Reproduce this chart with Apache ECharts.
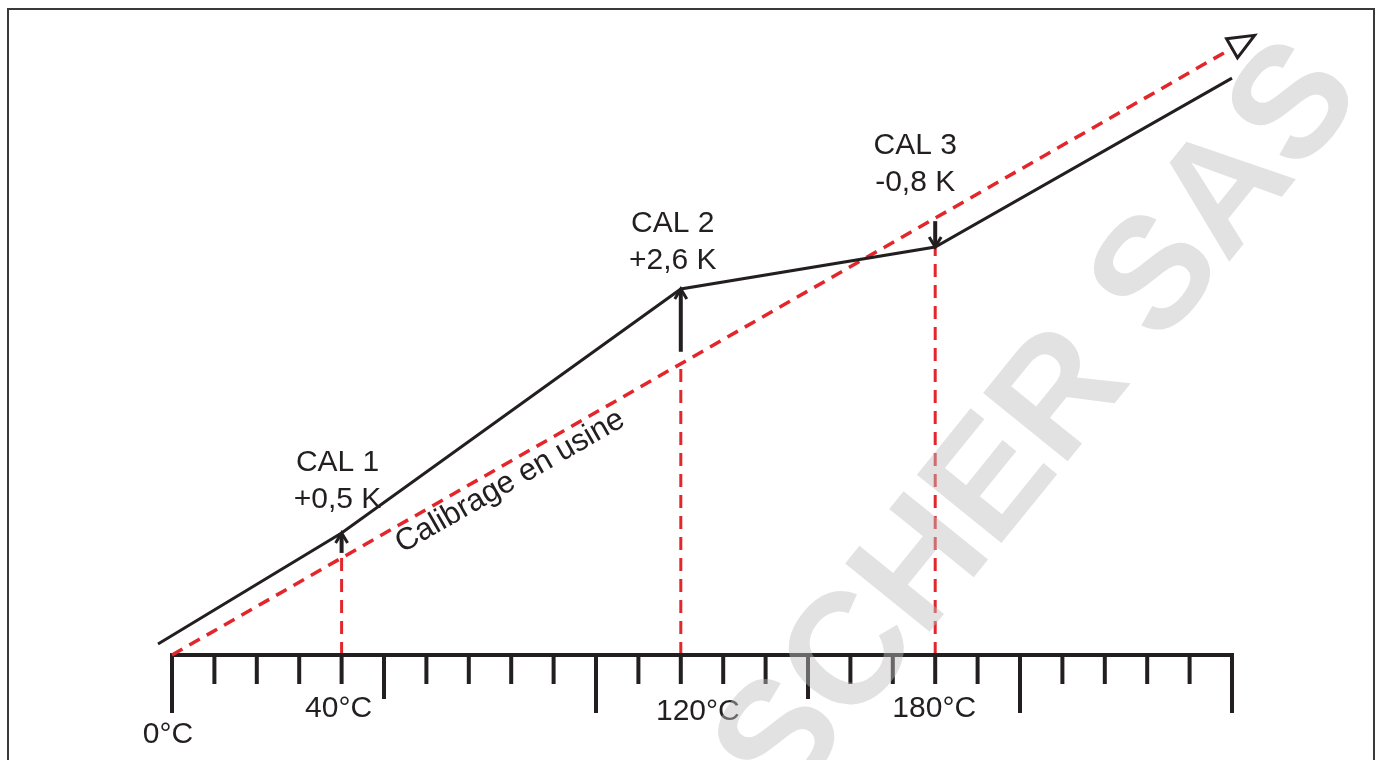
<!DOCTYPE html>
<html>
<head>
<meta charset="utf-8">
<title>Calibrage en usine</title>
<script src="https://cdn.jsdelivr.net/npm/echarts@6/dist/echarts.min.js"></script>
<style>
  html, body { margin: 0; padding: 0; background: #fff; }
  #chart { width: 1380px; height: 760px; }
</style>
</head>
<body>
<div id="chart"></div>
<script>
// temperature scale (°C)
const scaleStart = 0
const scaleEnd = 250
const minorTicks = [0, 10, 20, 30, 40, 50, 60, 70, 80, 90, 100, 110, 120, 130, 140, 150, 160, 170, 180, 190, 200, 210, 220, 230, 240, 250]
const midTicks = [50, 150]
const longTicks = [0, 100, 200, 250]
const tickLabels = [0, 40, 120, 180]

// factory calibration line (reference) and the corrected curve
const factoryLine = [[0, 0], [250, 250]]
const measuredLine = [[-3.3, 4.5], [40, 50.3], [120, 150.8], [180, 168.1], [250, 237.7]]

// calibration points
const calTemps = [40, 120, 180]
const calNames = ['CAL 1', 'CAL 2', 'CAL 3']
const calOffsets = ['+0,5 K', '+2,6 K', '-0,8 K']

const colors = {
  ink: '#231f20',
  red: '#e3262b',
  mark: 'rgba(190, 190, 190, 0.45)',
  frame: '#3a3a3a'
}
const font = '"Liberation Sans", Arial, sans-serif'

const measuredAt = x => measuredLine.find(p => p[0] === x)[1]
const tickLength = v => (longTicks.includes(v) ? 58 : midTicks.includes(v) ? 44 : 29)

// pixel tweaks for text placement
const tickLabelShift = { 0: [-4, 80], 40: [-3, 54], 120: [17, 57], 180: [-1, 54] }
const calLabelShift = [[-4, -52], [-8, -47], [-20, -83]]
const calArrowGap = [5, 12, 3]

const chart = echarts.init(document.getElementById('chart'))

chart.setOption({
  animation: false,
  backgroundColor: '#fff',
  grid: { left: 150.8, right: 148, top: 24, bottom: 105 },
  xAxis: { type: 'value', min: -5, max: 250, show: false },
  yAxis: { type: 'value', min: 0, max: 260, show: false },
  graphic: [
    {
      type: 'rect',
      z: 60,
      shape: { x: 8, y: 9, width: 1366, height: 800 },
      style: { fill: null, stroke: colors.frame, lineWidth: 2 }
    },
    {
      type: 'text',
      z: 50,
      x: 1041,
      y: 425,
      rotation: 51 * Math.PI / 180,
      style: {
        text: 'SCHER SAS',
        fill: colors.mark,
        font: 'bold 158px ' + font,
        align: 'center',
        verticalAlign: 'middle'
      }
    }
  ],
  series: [
    {
      // temperature scale: base line
      type: 'custom',
      silent: true,
      z: 3,
      clip: false,
      data: [[scaleStart, scaleEnd]],
      renderItem: (params, api) => {
        const a = api.coord([api.value(0), 0])
        const b = api.coord([api.value(1), 0])
        return {
          type: 'line',
          shape: { x1: a[0] - 2, y1: a[1], x2: b[0] + 2, y2: b[1] },
          style: { stroke: colors.ink, lineWidth: 4 }
        }
      }
    },
    {
      // temperature scale: ticks
      type: 'custom',
      silent: true,
      z: 3,
      clip: false,
      data: minorTicks.map(v => [v]),
      renderItem: (params, api) => {
        const v = api.value(0)
        const p = api.coord([v, 0])
        return {
          type: 'line',
          shape: { x1: p[0], y1: p[1] - 2, x2: p[0], y2: p[1] + tickLength(v) },
          style: { stroke: colors.ink, lineWidth: 4 }
        }
      }
    },
    {
      type: 'custom',
      silent: true,
      clip: false,
      data: tickLabels.map(v => [v, 0]),
      renderItem: (params, api) => {
        const v = api.value(0)
        const p = api.coord([v, 0])
        const s = tickLabelShift[v]
        return {
          type: 'text',
          x: p[0] + s[0],
          y: p[1] + s[1],
          style: {
            text: v + '°C',
            fill: colors.ink,
            fontSize: 30,
            fontFamily: font,
            align: 'center',
            verticalAlign: 'middle'
          }
        }
      }
    },
    {
      // vertical guides at calibration points
      type: 'custom',
      silent: true,
      z: 2,
      clip: false,
      data: calTemps.map(x => [x, Math.min(x, measuredAt(x))]),
      renderItem: (params, api) => {
        const a = api.coord([api.value(0), 0])
        const b = api.coord([api.value(0), api.value(1)])
        return {
          type: 'line',
          shape: { x1: a[0], y1: a[1], x2: b[0], y2: b[1] },
          style: { stroke: colors.red, lineWidth: 3, lineDash: [13, 8] }
        }
      }
    },
    {
      name: 'Calibrage en usine',
      type: 'line',
      z: 3,
      clip: false,
      symbol: 'none',
      data: factoryLine,
      lineStyle: { color: colors.red, width: 3.5, type: [12, 8] }
    },
    {
      // open arrow head at the end of the factory line
      type: 'custom',
      silent: true,
      z: 4,
      clip: false,
      data: [[factoryLine[0][0], factoryLine[0][1], factoryLine[1][0], factoryLine[1][1]]],
      renderItem: (params, api) => {
        const a = api.coord([api.value(0), api.value(1)])
        const b = api.coord([api.value(2), api.value(3)])
        const len = Math.hypot(b[0] - a[0], b[1] - a[1])
        const ux = (b[0] - a[0]) / len
        const uy = (b[1] - a[1]) / len
        const tip = [b[0] + ux * 26, b[1] + uy * 26]
        return {
          type: 'polygon',
          shape: { points: [[b[0] - uy * 11, b[1] + ux * 11], tip, [b[0] + uy * 11, b[1] - ux * 11]] },
          style: { fill: '#fff', stroke: colors.ink, lineWidth: 3, lineJoin: 'miter' }
        }
      }
    },
    {
      type: 'custom',
      silent: true,
      clip: false,
      data: [[77.7, 77.7]],
      renderItem: (params, api) => {
        const a = api.coord(factoryLine[0])
        const b = api.coord(factoryLine[1])
        const ang = Math.atan2(a[1] - b[1], b[0] - a[0])
        const p = api.coord([api.value(0), api.value(1)])
        const d = 17.4
        return {
          type: 'text',
          x: p[0] + Math.sin(ang) * d,
          y: p[1] + Math.cos(ang) * d,
          rotation: ang,
          style: {
            text: 'Calibrage en usine',
            fill: colors.ink,
            fontSize: 31,
            fontFamily: font,
            align: 'center',
            verticalAlign: 'middle'
          }
        }
      }
    },
    {
      name: 'Mesure',
      type: 'line',
      z: 5,
      clip: false,
      symbol: 'none',
      data: measuredLine,
      lineStyle: { color: colors.ink, width: 3, join: 'miter' }
    },
    {
      // correction arrows from factory line to corrected curve
      type: 'custom',
      silent: true,
      z: 6,
      clip: false,
      data: calTemps.map(x => [x, x, measuredAt(x)]),
      renderItem: (params, api) => {
        const i = params.dataIndex
        const x = api.value(0)
        const from = api.coord([x, api.value(1)])
        const to = api.coord([x, api.value(2)])
        const dir = Math.sign(to[1] - from[1])
        return {
          type: 'group',
          children: [
            {
              type: 'line',
              shape: { x1: from[0], y1: from[1] + dir * calArrowGap[i], x2: to[0], y2: to[1] - dir * 2 },
              style: { stroke: colors.ink, lineWidth: 4 }
            },
            {
              type: 'polyline',
              shape: { points: [[to[0] - 6, to[1] - dir * 10], [to[0], to[1]], [to[0] + 6, to[1] - dir * 10]] },
              style: { stroke: colors.ink, lineWidth: 3, fill: null }
            }
          ]
        }
      }
    },
    {
      type: 'custom',
      silent: true,
      clip: false,
      data: calTemps.map(x => [x, measuredAt(x)]),
      renderItem: (params, api) => {
        const i = params.dataIndex
        const p = api.coord([api.value(0), api.value(1)])
        return {
          type: 'text',
          x: p[0] + calLabelShift[i][0],
          y: p[1] + calLabelShift[i][1],
          style: {
            text: calNames[i] + '\n' + calOffsets[i],
            fill: colors.ink,
            fontSize: 30,
            lineHeight: 37,
            fontFamily: font,
            align: 'center',
            verticalAlign: 'middle'
          }
        }
      }
    }
  ]
})

window.addEventListener('resize', () => chart.resize())
</script>
</body>
</html>
